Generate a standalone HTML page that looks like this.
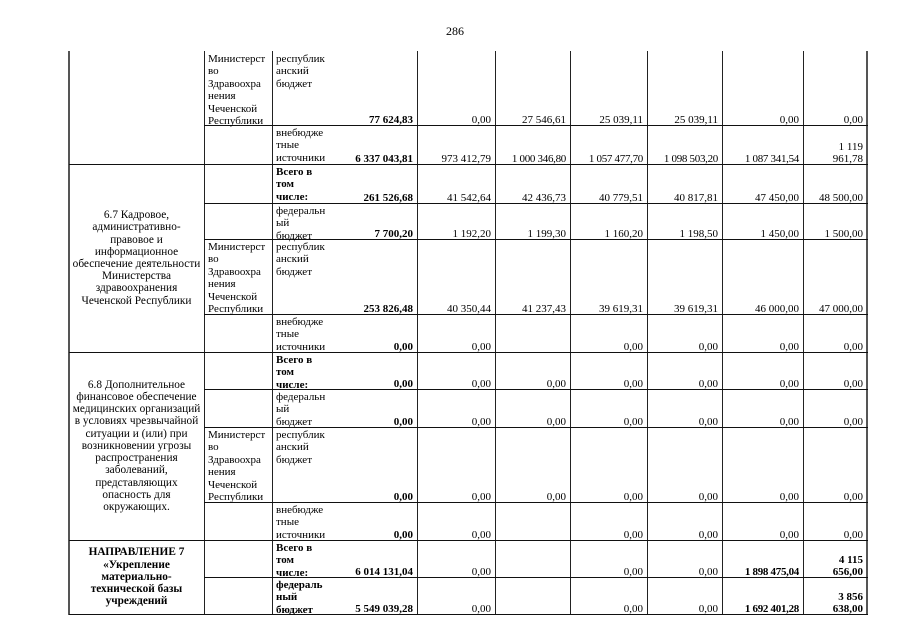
<!DOCTYPE html>
<html lang="ru">
<head>
<meta charset="utf-8">
<style>
  html,body{margin:0;padding:0;background:#fff;}
  body{width:905px;height:640px;position:relative;overflow:hidden;
       font-family:"Liberation Serif","Noto Serif CJK SC",serif;color:#000;}
  .c{position:absolute;box-sizing:border-box;font-size:11px;line-height:12px;white-space:nowrap;}
  .n{display:flex;align-items:flex-end;justify-content:flex-end;padding:0 4px 0 0;text-align:right;transform:translateY(2px);}
  .l{padding:2px 0 0 4px;line-height:12.4px;}
  .d{display:flex;align-items:center;justify-content:center;text-align:center;font-size:11.3px;line-height:12.2px;}
  .b{font-weight:bold;}
  .h{position:absolute;height:1px;background:#111;}
  .v{position:absolute;width:1px;background:#222;top:51px;height:564px;}
</style>
</head>
<body>

<div class="c" style="left:405px;top:24px;width:100px;text-align:center;font-size:12px;line-height:14px;">286</div>

<!-- vertical lines -->
<div class="v" style="left:68px;width:2px;background:#555;"></div>
<div class="v" style="left:204px;"></div>
<div class="v" style="left:272px;"></div>
<div class="v" style="left:417px;"></div>
<div class="v" style="left:495px;"></div>
<div class="v" style="left:570px;"></div>
<div class="v" style="left:647px;"></div>
<div class="v" style="left:722px;"></div>
<div class="v" style="left:803px;"></div>
<div class="v" style="left:866px;width:2px;background:#555;"></div>

<!-- horizontal lines -->
<div class="h" style="left:204px;width:664px;top:125px;"></div>
<div class="h" style="left:69px;width:799px;top:164px;"></div>
<div class="h" style="left:204px;width:664px;top:203px;"></div>
<div class="h" style="left:204px;width:664px;top:239px;"></div>
<div class="h" style="left:204px;width:664px;top:314px;"></div>
<div class="h" style="left:69px;width:799px;top:352px;"></div>
<div class="h" style="left:204px;width:664px;top:389px;"></div>
<div class="h" style="left:204px;width:664px;top:427px;"></div>
<div class="h" style="left:204px;width:664px;top:502px;"></div>
<div class="h" style="left:69px;width:799px;top:540px;"></div>
<div class="h" style="left:204px;width:664px;top:577px;"></div>
<div class="h" style="left:69px;width:799px;top:614px;"></div>

<!-- descriptions (column 1) -->
<div class="c d" style="left:69px;top:164px;width:135px;height:188px;">6.7 Кадровое,<br>административно-<br>правовое и<br>информационное<br>обеспечение деятельности<br>Министерства<br>здравоохранения<br>Чеченской Республики</div>
<div class="c d" style="left:69px;top:352px;width:135px;height:188px;">6.8 Дополнительное<br>финансовое обеспечение<br>медицинских организаций<br>в условиях чрезвычайной<br>ситуации и (или) при<br>возникновении угрозы<br>распространения<br>заболеваний,<br>представляющих<br>опасность для<br>окружающих.</div>
<div class="c d b" style="left:69px;top:540px;width:135px;height:74px;">НАПРАВЛЕНИЕ 7<br>«Укрепление<br>материально-<br>технической базы<br>учреждений</div>

<!-- column 2 (executor) -->
<div class="c l" style="left:204px;top:51px;width:68px;">Министерст<br>во<br>Здравоохра<br>нения<br>Чеченской<br>Республики</div>
<div class="c l" style="left:204px;top:239px;width:68px;">Министерст<br>во<br>Здравоохра<br>нения<br>Чеченской<br>Республики</div>
<div class="c l" style="left:204px;top:427px;width:68px;">Министерст<br>во<br>Здравоохра<br>нения<br>Чеченской<br>Республики</div>

<!-- column 3 labels -->
<div class="c l" style="left:272px;top:51px;">республик<br>анский<br>бюджет</div>
<div class="c l" style="left:272px;top:125px;">внебюдже<br>тные<br>источники</div>
<div class="c l b" style="left:272px;top:164px;">Всего в<br>том<br>числе:</div>
<div class="c l" style="left:272px;top:203px;">федеральн<br>ый<br>бюджет</div>
<div class="c l" style="left:272px;top:239px;">республик<br>анский<br>бюджет</div>
<div class="c l" style="left:272px;top:314px;">внебюдже<br>тные<br>источники</div>
<div class="c l b" style="left:272px;top:352px;">Всего в<br>том<br>числе:</div>
<div class="c l" style="left:272px;top:389px;">федеральн<br>ый<br>бюджет</div>
<div class="c l" style="left:272px;top:427px;">республик<br>анский<br>бюджет</div>
<div class="c l" style="left:272px;top:502px;">внебюдже<br>тные<br>источники</div>
<div class="c l b" style="left:272px;top:540px;">Всего в<br>том<br>числе:</div>
<div class="c l b" style="left:272px;top:577px;">федераль<br>ный<br>бюджет</div>

<!-- column 3 totals -->
<div class="c n b" style="left:272px;top:51px;width:145px;height:73px;">77 624,83</div>
<div class="c n b" style="left:272px;top:125px;width:145px;height:38px;">6 337 043,81</div>
<div class="c n b" style="left:272px;top:164px;width:145px;height:38px;">261 526,68</div>
<div class="c n b" style="left:272px;top:203px;width:145px;height:35px;">7 700,20</div>
<div class="c n b" style="left:272px;top:239px;width:145px;height:74px;">253 826,48</div>
<div class="c n b" style="left:272px;top:314px;width:145px;height:37px;">0,00</div>
<div class="c n b" style="left:272px;top:352px;width:145px;height:36px;">0,00</div>
<div class="c n b" style="left:272px;top:389px;width:145px;height:37px;">0,00</div>
<div class="c n b" style="left:272px;top:427px;width:145px;height:74px;">0,00</div>
<div class="c n b" style="left:272px;top:502px;width:145px;height:37px;">0,00</div>
<div class="c n b" style="left:272px;top:540px;width:145px;height:36px;">6 014 131,04</div>
<div class="c n b" style="left:272px;top:577px;width:145px;height:36px;">5 549 039,28</div>

<!-- Row 1: 51-125 -->
<div class="c n" style="left:417px;top:51px;width:78px;height:73px;">0,00</div>
<div class="c n" style="left:495px;top:51px;width:75px;height:73px;">27 546,61</div>
<div class="c n" style="left:570px;top:51px;width:77px;height:73px;">25 039,11</div>
<div class="c n" style="left:647px;top:51px;width:75px;height:73px;">25 039,11</div>
<div class="c n" style="left:722px;top:51px;width:81px;height:73px;">0,00</div>
<div class="c n" style="left:803px;top:51px;width:64px;height:73px;">0,00</div>

<!-- Row 2: 125-164 -->
<div class="c n" style="left:417px;top:125px;width:78px;height:38px;">973 412,79</div>
<div class="c n" style="left:495px;top:125px;width:75px;height:38px;letter-spacing:-0.3px;">1 000 346,80</div>
<div class="c n" style="left:570px;top:125px;width:77px;height:38px;letter-spacing:-0.3px;">1 057 477,70</div>
<div class="c n" style="left:647px;top:125px;width:75px;height:38px;letter-spacing:-0.3px;">1 098 503,20</div>
<div class="c n" style="left:722px;top:125px;width:81px;height:38px;letter-spacing:-0.3px;">1 087 341,54</div>
<div class="c n" style="left:803px;top:125px;width:64px;height:38px;">1 119<br>961,78</div>

<!-- Row 3: 164-203 -->
<div class="c n" style="left:417px;top:164px;width:78px;height:38px;">41 542,64</div>
<div class="c n" style="left:495px;top:164px;width:75px;height:38px;">42 436,73</div>
<div class="c n" style="left:570px;top:164px;width:77px;height:38px;">40 779,51</div>
<div class="c n" style="left:647px;top:164px;width:75px;height:38px;">40 817,81</div>
<div class="c n" style="left:722px;top:164px;width:81px;height:38px;">47 450,00</div>
<div class="c n" style="left:803px;top:164px;width:64px;height:38px;">48 500,00</div>

<!-- Row 4: 203-239 -->
<div class="c n" style="left:417px;top:203px;width:78px;height:35px;">1 192,20</div>
<div class="c n" style="left:495px;top:203px;width:75px;height:35px;">1 199,30</div>
<div class="c n" style="left:570px;top:203px;width:77px;height:35px;">1 160,20</div>
<div class="c n" style="left:647px;top:203px;width:75px;height:35px;">1 198,50</div>
<div class="c n" style="left:722px;top:203px;width:81px;height:35px;">1 450,00</div>
<div class="c n" style="left:803px;top:203px;width:64px;height:35px;">1 500,00</div>

<!-- Row 5: 239-314 -->
<div class="c n" style="left:417px;top:239px;width:78px;height:74px;">40 350,44</div>
<div class="c n" style="left:495px;top:239px;width:75px;height:74px;">41 237,43</div>
<div class="c n" style="left:570px;top:239px;width:77px;height:74px;">39 619,31</div>
<div class="c n" style="left:647px;top:239px;width:75px;height:74px;">39 619,31</div>
<div class="c n" style="left:722px;top:239px;width:81px;height:74px;">46 000,00</div>
<div class="c n" style="left:803px;top:239px;width:64px;height:74px;">47 000,00</div>

<!-- Row 6: 314-352 -->
<div class="c n" style="left:417px;top:314px;width:78px;height:37px;">0,00</div>
<div class="c n" style="left:570px;top:314px;width:77px;height:37px;">0,00</div>
<div class="c n" style="left:647px;top:314px;width:75px;height:37px;">0,00</div>
<div class="c n" style="left:722px;top:314px;width:81px;height:37px;">0,00</div>
<div class="c n" style="left:803px;top:314px;width:64px;height:37px;">0,00</div>

<!-- Row 7: 352-389 -->
<div class="c n" style="left:417px;top:352px;width:78px;height:36px;">0,00</div>
<div class="c n" style="left:495px;top:352px;width:75px;height:36px;">0,00</div>
<div class="c n" style="left:570px;top:352px;width:77px;height:36px;">0,00</div>
<div class="c n" style="left:647px;top:352px;width:75px;height:36px;">0,00</div>
<div class="c n" style="left:722px;top:352px;width:81px;height:36px;">0,00</div>
<div class="c n" style="left:803px;top:352px;width:64px;height:36px;">0,00</div>

<!-- Row 8: 389-427 -->
<div class="c n" style="left:417px;top:389px;width:78px;height:37px;">0,00</div>
<div class="c n" style="left:495px;top:389px;width:75px;height:37px;">0,00</div>
<div class="c n" style="left:570px;top:389px;width:77px;height:37px;">0,00</div>
<div class="c n" style="left:647px;top:389px;width:75px;height:37px;">0,00</div>
<div class="c n" style="left:722px;top:389px;width:81px;height:37px;">0,00</div>
<div class="c n" style="left:803px;top:389px;width:64px;height:37px;">0,00</div>

<!-- Row 9: 427-502 -->
<div class="c n" style="left:417px;top:427px;width:78px;height:74px;">0,00</div>
<div class="c n" style="left:495px;top:427px;width:75px;height:74px;">0,00</div>
<div class="c n" style="left:570px;top:427px;width:77px;height:74px;">0,00</div>
<div class="c n" style="left:647px;top:427px;width:75px;height:74px;">0,00</div>
<div class="c n" style="left:722px;top:427px;width:81px;height:74px;">0,00</div>
<div class="c n" style="left:803px;top:427px;width:64px;height:74px;">0,00</div>

<!-- Row 10: 502-540 -->
<div class="c n" style="left:417px;top:502px;width:78px;height:37px;">0,00</div>
<div class="c n" style="left:570px;top:502px;width:77px;height:37px;">0,00</div>
<div class="c n" style="left:647px;top:502px;width:75px;height:37px;">0,00</div>
<div class="c n" style="left:722px;top:502px;width:81px;height:37px;">0,00</div>
<div class="c n" style="left:803px;top:502px;width:64px;height:37px;">0,00</div>

<!-- Row 11: 540-577 -->
<div class="c n" style="left:417px;top:540px;width:78px;height:36px;">0,00</div>
<div class="c n" style="left:570px;top:540px;width:77px;height:36px;">0,00</div>
<div class="c n" style="left:647px;top:540px;width:75px;height:36px;">0,00</div>
<div class="c n b" style="left:722px;top:540px;width:81px;height:36px;letter-spacing:-0.3px;">1 898 475,04</div>
<div class="c n b" style="left:803px;top:540px;width:64px;height:36px;">4 115<br>656,00</div>

<!-- Row 12: 577-614 -->
<div class="c n" style="left:417px;top:577px;width:78px;height:36px;">0,00</div>
<div class="c n" style="left:570px;top:577px;width:77px;height:36px;">0,00</div>
<div class="c n" style="left:647px;top:577px;width:75px;height:36px;">0,00</div>
<div class="c n b" style="left:722px;top:577px;width:81px;height:36px;letter-spacing:-0.3px;">1 692 401,28</div>
<div class="c n b" style="left:803px;top:577px;width:64px;height:36px;">3 856<br>638,00</div>

</body>
</html>
